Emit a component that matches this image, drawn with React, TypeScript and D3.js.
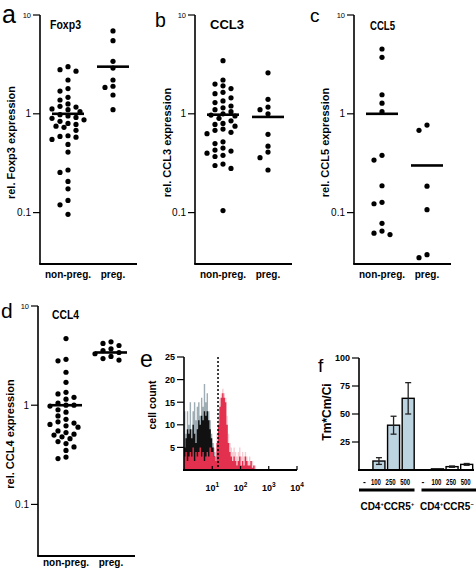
import React from "react";
import * as d3 from "d3";

const FONT = "'Liberation Sans', Arial, Helvetica, sans-serif";

// ---------- dot plots ----------
const groupNames = ["non-preg.", "preg."];
const logTicks = [0.1, 1, 10];

const foxp3NonPreg = [3.0, 2.8, 2.7, 2.2, 1.8, 1.7, 1.47, 1.38, 1.26, 1.19, 1.17, 1.12, 1.1, 1.05, 0.98, 0.95, 0.92, 0.9, 0.87, 0.84, 0.8, 0.78, 0.75, 0.73, 0.68, 0.6, 0.59, 0.58, 0.55, 0.49, 0.41, 0.27, 0.255, 0.207, 0.174, 0.133, 0.12, 0.096];
const foxp3Preg = [6.9, 5.5, 3.4, 2.9, 2.2, 1.9, 1.85, 1.55, 1.1];
const foxp3Means = [1.0, 3.0];

const ccl3NonPreg = [3.45, 2.2, 2.0, 1.92, 1.8, 1.65, 1.6, 1.45, 1.35, 1.3, 1.2, 1.15, 1.1, 1.05, 1.0, 0.97, 0.95, 0.9, 0.85, 0.8, 0.78, 0.75, 0.7, 0.68, 0.65, 0.63, 0.52, 0.5, 0.45, 0.43, 0.42, 0.4, 0.38, 0.37, 0.31, 0.3, 0.28, 0.105];
const ccl3Preg = [2.6, 1.4, 1.17, 1.1, 1.0, 0.62, 0.47, 0.41, 0.36, 0.27];
const ccl3Means = [0.98, 0.93];

const ccl5NonPreg = [4.53, 3.73, 1.56, 1.28, 1.05, 0.38, 0.34, 0.187, 0.127, 0.123, 0.078, 0.065, 0.062, 0.06];
const ccl5Preg = [0.77, 0.68, 0.185, 0.107, 0.0375, 0.035];
const ccl5Means = [1.0, 0.3];

const ccl4NonPreg = [4.7, 2.9, 2.8, 2.15, 1.7, 1.35, 1.3, 1.2, 1.15, 1.05, 1.0, 1.0, 0.98, 0.9, 0.85, 0.78, 0.72, 0.68, 0.66, 0.64, 0.62, 0.6, 0.55, 0.53, 0.51, 0.5, 0.48, 0.46, 0.43, 0.41, 0.38, 0.35, 0.3, 0.29];
const ccl4Preg = [4.35, 4.2, 4.0, 3.7, 3.55, 3.4, 3.3, 3.1, 2.95, 2.85];
const ccl4Means = [1.0, 3.4];

// ---------- histogram (panel e), bins of 0.05 decade from 10^0 ----------
const histBinDecades = 0.05;
const histBlack = [5, 7, 9, 8, 9, 7, 10, 8, 6, 9, 11, 10, 12, 11, 13, 12, 13, 11, 9, 7, 5, 3, 1, 0.5, 1, 0.5, 1.5, 0.5, 1, 0, 1, 0.5, 1, 0, 0.5, 1, 0, 0, 0, 0, 0, 0, 0, 0, 0, 0, 0, 0, 0, 0, 0, 0];
const histGrey = [13, 8, 13, 10, 15, 9, 13, 15, 11, 14, 15, 12, 16, 14, 19, 15, 17, 13, 11, 8, 6, 4, 3, 2, 2, 1, 2, 1, 3, 1, 2, 1, 2, 1, 2, 1, 0.5, 1, 0, 0, 0, 0, 0, 0, 0, 0, 0, 0, 0, 0, 0, 0];
const histRed = [3, 4, 2, 3, 4, 3, 5, 2, 4, 3, 4, 5, 3, 4, 2, 3, 4, 3, 5, 4, 4, 3, 2, 6, 10, 14, 16, 17, 16, 15, 10, 6, 4, 3, 2, 3, 2, 1, 2, 3, 1, 2, 1, 3, 2, 1, 1, 2, 0.5, 1, 0, 0];
const histPink = [6, 5, 7, 4, 6, 5, 8, 4, 6, 5, 7, 6, 5, 7, 4, 6, 5, 6, 7, 5, 6, 5, 4, 8, 12, 16, 17, 18, 17, 16, 12, 8, 6, 5, 4, 5, 4, 3, 4, 5, 3, 4, 3, 4, 3, 2, 3, 2, 2, 1, 1, 0];
const histYTicks = [5, 10, 15, 20, 25];
const histXDecades = [1, 2, 3, 4];
const gateValue = 16;

// ---------- bars (panel f) ----------
const doseLabels = ["-", "100", "250", "500"];
const populations = ["CD4+CCR5+", "CD4+CCR5-"];
const ccr5PosValues = [0, 8, 40, 64];
const ccr5PosErr = [0, 3, 8, 14];
const ccr5NegValues = [0, 1, 3, 5];
const ccr5NegErr = [0, 0, 0.6, 0.8];
const barYTicks = [25, 50, 75, 100];

function dodge(values: number[], y: (v: number) => number, r: number) {
  const slots = [0, -8, 8, -4, 4, -12, 12, -16, 16, -20, 20];
  const placed: { dx: number; cy: number }[] = [];
  const sorted = values.slice().sort((a, b) => b - a);
  return sorted.map((v) => {
    const cy = y(v);
    let chosen = slots[slots.length - 1];
    for (const s of slots) {
      if (placed.every((p) => Math.hypot(p.dx - s, p.cy - cy) >= 2 * r + 0.4)) {
        chosen = s;
        break;
      }
    }
    placed.push({ dx: chosen, cy });
    return { v, dx: chosen, cy };
  });
}

function DotPanel(props: any) {
  const { letter, letterSize, letterX, letterY, axisX, yTop, yBottom, title, titleX, titleY, titleLen, ylabel, ylabelX, series, means, xLabelDy } = props;
  const y = d3.scaleLog().domain([0.0302, 10]).range([yBottom, yTop]);
  const x = d3.scalePoint<string>().domain(groupNames).range([axisX + 28, axisX + 73]);
  const axisRight = axisX + 97;
  const r = 2.6;
  return (
    <g>
      <text x={letterX} y={letterY} fontSize={letterSize}>{letter}</text>
      <text x={titleX} y={titleY} fontSize={12.5} fontWeight="bold" textLength={titleLen} lengthAdjust="spacingAndGlyphs">{title}</text>
      <text transform={`translate(${ylabelX},${(yTop + yBottom) / 2 + 3}) rotate(-90)`} textAnchor="middle" fontSize={11} fontWeight="bold">{ylabel}</text>
      <line x1={axisX} x2={axisX} y1={yTop} y2={yBottom} stroke="#000" strokeWidth={1.6} />
      <line x1={axisX - 0.8} x2={axisRight} y1={yBottom} y2={yBottom} stroke="#000" strokeWidth={2} />
      {logTicks.map((t) => (
        <g key={t}>
          <line x1={axisX - 7} x2={axisX} y1={y(t)} y2={y(t)} stroke="#000" strokeWidth={1.2} />
          <text x={axisX - 9} y={y(t) + (t === 10 ? 2.5 : 3.5)} textAnchor="end" fontSize={t === 10 ? 7.5 : 10}>{t === 10 ? "10" : t}</text>
        </g>
      ))}
      {series.map((vals: number[], gi: number) => {
        const cx = x(groupNames[gi])!;
        return (
          <g key={gi}>
            {dodge(vals, y, r).map((d, i) => (
              <circle key={i} cx={cx + d.dx} cy={d.cy} r={r} fill="#000" />
            ))}
            <line x1={cx - 16} x2={cx + 16} y1={y(means[gi])} y2={y(means[gi])} stroke="#000" strokeWidth={2.6} />
            <text x={cx} y={yBottom + xLabelDy} textAnchor="middle" fontSize={10} fontWeight="bold">{groupNames[gi]}</text>
          </g>
        );
      })}
    </g>
  );
}

function HistPanel() {
  const x = d3.scaleLog().domain([1, 1e4]).range([184, 297]);
  const y = d3.scaleLinear().domain([0, 25]).range([470, 357]);
  const mkArea = (vals: number[]) => {
    const pts = vals.map((v, i) => ({ e: Math.pow(10, i * histBinDecades), v }));
    pts.push({ e: Math.pow(10, vals.length * histBinDecades), v: 0 });
    return d3
      .area<{ e: number; v: number }>()
      .x((d) => x(d.e))
      .y0(y(0))
      .y1((d) => y(d.v))
      .curve(d3.curveStepAfter)(pts) as string;
  };
  return (
    <g>
      <text x={140} y={367} fontSize={23}>e</text>
      <text transform={`translate(156,405) rotate(-90)`} textAnchor="middle" fontSize={10.5} fontWeight="bold">cell count</text>
      <path d={mkArea(histPink)} fill="#f7cdd4" />
      <path d={mkArea(histGrey)} fill="#9eadb4" />
      <path d={mkArea(histBlack)} fill="#111" />
      <path d={mkArea(histRed)} fill="#e3304e" />
      <line x1={x(gateValue)} x2={x(gateValue)} y1={357} y2={470} stroke="#000" strokeWidth={1.5} strokeDasharray="2,2" />
      <line x1={184} x2={184} y1={357} y2={470} stroke="#000" strokeWidth={1.6} />
      <line x1={183} x2={297} y1={470} y2={470} stroke="#000" strokeWidth={1.8} />
      {histYTicks.map((t) => (
        <g key={t}>
          <line x1={177} x2={184} y1={y(t)} y2={y(t)} stroke="#000" strokeWidth={1.2} />
          <text x={175} y={y(t) + 3.3} textAnchor="end" fontSize={9} fontWeight="bold">{t}</text>
        </g>
      ))}
      {histXDecades.map((dd) => {
        const xx = x(Math.pow(10, dd));
        return (
          <g key={dd}>
            <line x1={xx} x2={xx} y1={466} y2={470} stroke="#000" strokeWidth={1.2} />
            <text x={xx} y={491} textAnchor="middle" fontSize={9} fontWeight="bold">
              10<tspan dy={-4} fontSize={6.5}>{dd}</tspan>
            </text>
          </g>
        );
      })}
    </g>
  );
}

function Sup({ label }: { label: string }) {
  const m = label.match(/^CD4(.)CCR5(.)$/)!;
  return (
    <>
      CD4<tspan dy={-4} fontSize={5.5}>{m[1]}</tspan>
      <tspan dy={4}>CCR5</tspan>
      <tspan dy={-4} fontSize={5.5}>{m[2] === "-" ? "\u2212" : "+"}</tspan>
    </>
  );
}

function BarPanel() {
  const keys = populations.flatMap((p) => doseLabels.map((d) => `${p}|${d}`));
  const x = d3.scaleBand<string>().domain(keys).range([357, 474]).padding(0);
  const y = d3.scaleLinear().domain([0, 100]).range([470, 358]);
  const bw = 12;
  const seriesVals = [ccr5PosValues, ccr5NegValues];
  const seriesErr = [ccr5PosErr, ccr5NegErr];
  return (
    <g>
      <text x={318} y={372} fontSize={19}>f</text>
      <text transform={`translate(331,412) rotate(-90)`} textAnchor="middle" fontSize={12} fontWeight="bold">Tm*Cm/Ci</text>
      {populations.map((p, pi) => {
        const x0 = x(`${p}|${doseLabels[0]}`)!;
        const x1 = x(`${p}|${doseLabels[doseLabels.length - 1]}`)! + x.bandwidth();
        return (
          <g key={p}>
            {doseLabels.map((d, di) => {
              const k = `${p}|${d}`;
              const cx = x(k)! + x.bandwidth() / 2;
              const v = seriesVals[pi][di];
              const e = seriesErr[pi][di];
              return (
                <g key={k}>
                  {v > 0 && (
                    <rect x={cx - bw / 2} y={y(v)} width={bw} height={y(0) - y(v)} fill={pi === 0 ? "#bcd3e0" : "#fff"} stroke="#000" strokeWidth={1.4} />
                  )}
                  {e > 0 && (
                    <g stroke="#222" strokeWidth={1.3}>
                      <line x1={cx} x2={cx} y1={y(v + e)} y2={y(Math.max(0, v - e))} />
                      <line x1={cx - 3} x2={cx + 3} y1={y(v + e)} y2={y(v + e)} />
                      <line x1={cx - 3} x2={cx + 3} y1={y(Math.max(0, v - e))} y2={y(Math.max(0, v - e))} />
                    </g>
                  )}
                  {d === "-" ? (
                    <text x={cx} y={485} textAnchor="middle" fontSize={8.5} fontWeight="bold">-</text>
                  ) : (
                    <text x={cx - (pi === 0 ? 3 : 1)} y={485} textAnchor="middle" fontSize={8.5} fontWeight="bold" textLength={10} lengthAdjust="spacingAndGlyphs">{d}</text>
                  )}
                </g>
              );
            })}
            <line x1={x0 + (pi === 0 ? 2 : 6)} x2={x1 + (pi === 0 ? -1 : 3)} y1={490} y2={490} stroke="#000" strokeWidth={3} />
            <text x={(x0 + x1) / 2 + (pi === 0 ? 1 : 2)} y={510} textAnchor="middle" fontSize={10} fontWeight="bold">
              <Sup label={p} />
            </text>
          </g>
        );
      })}
      <line x1={359} x2={359} y1={358} y2={470} stroke="#000" strokeWidth={1.6} />
      <line x1={358} x2={474} y1={470} y2={470} stroke="#000" strokeWidth={1.8} />
      {barYTicks.map((t) => (
        <g key={t}>
          <line x1={352} x2={359} y1={y(t)} y2={y(t)} stroke="#000" strokeWidth={1.2} />
          <text x={350} y={y(t) + 3.3} textAnchor="end" fontSize={9} fontWeight="bold">{t}</text>
        </g>
      ))}
    </g>
  );
}

export default function App() {
  return (
    <svg width={476} height={570} style={{ position: "absolute", left: 0, top: 0, background: "#fff" }} fontFamily={FONT}>
      <rect width={476} height={570} fill="#fff" />
      <DotPanel letter="a" letterSize={25} letterX={2} letterY={23} axisX={40} yTop={15} yBottom={264}
        title="Foxp3" titleX={50} titleY={29} titleLen={31} ylabel="rel. Foxp3 expression" ylabelX={14.5}
        series={[foxp3NonPreg, foxp3Preg]} means={foxp3Means} xLabelDy={14} />
      <DotPanel letter="b" letterSize={19.5} letterX={155} letterY={26.7} axisX={195} yTop={15} yBottom={264}
        title="CCL3" titleX={210} titleY={29} titleLen={34} ylabel="rel. CCL3 expression" ylabelX={170.5}
        series={[ccl3NonPreg, ccl3Preg]} means={ccl3Means} xLabelDy={14} />
      <DotPanel letter="c" letterSize={19} letterX={310} letterY={22} axisX={354} yTop={15} yBottom={264}
        title="CCL5" titleX={370} titleY={30} titleLen={25} ylabel="rel. CCL5 expression" ylabelX={328.5}
        series={[ccl5NonPreg, ccl5Preg]} means={ccl5Means} xLabelDy={14} />
      <DotPanel letter="d" letterSize={21} letterX={1} letterY={318} axisX={38} yTop={306} yBottom={556}
        title="CCL4" titleX={52} titleY={319} titleLen={27} ylabel="rel. CCL4 expression" ylabelX={13.5}
        series={[ccl4NonPreg, ccl4Preg]} means={ccl4Means} xLabelDy={10} />
      <HistPanel />
      <BarPanel />
    </svg>
  );
}
